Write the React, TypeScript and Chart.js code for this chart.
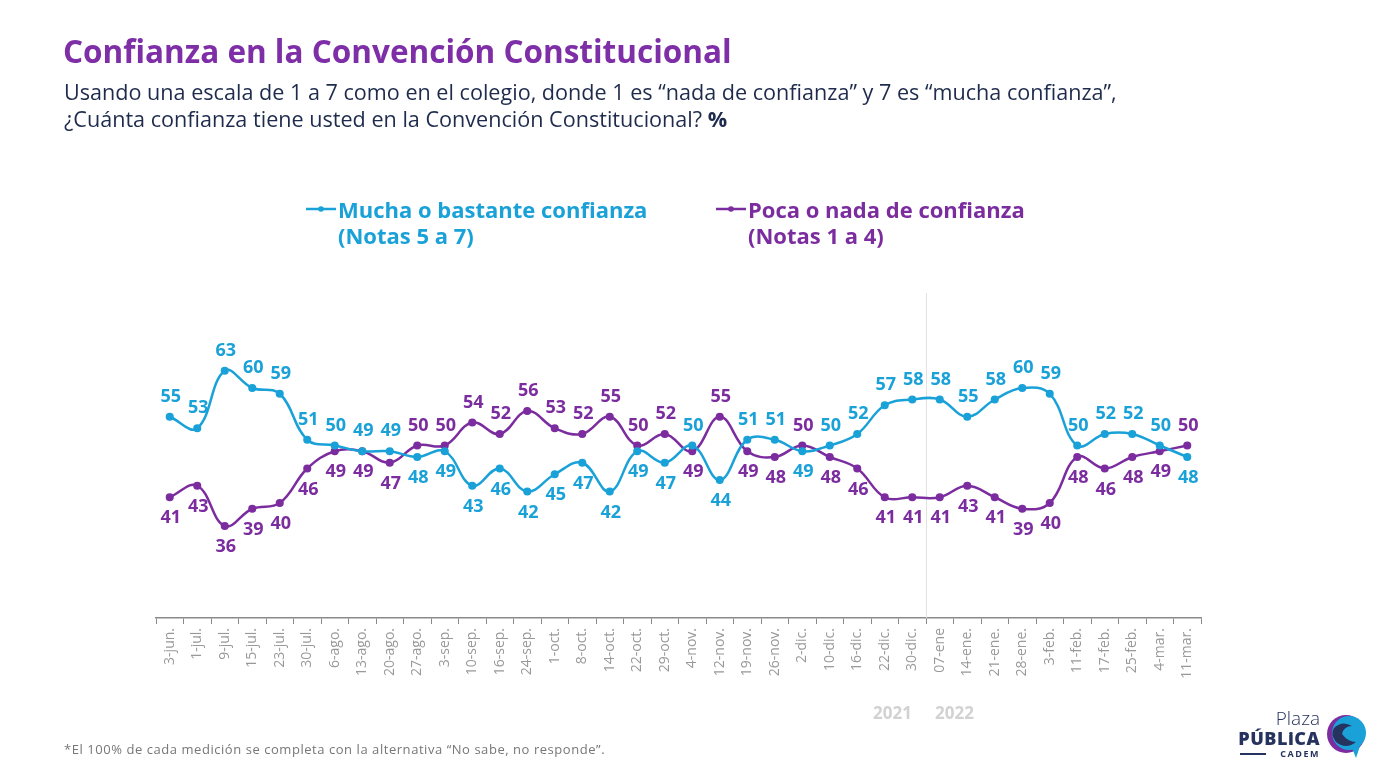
import React, { useEffect, useRef } from "react";
import { Chart, registerables } from "chart.js";

Chart.register(...registerables);

const categories = [
  "3-jun.", "1-jul.", "9-jul.", "15-jul.", "23-jul.", "30-jul.", "6-ago.", "13-ago.", "20-ago.", "27-ago.",
  "3-sep.", "10-sep.", "16-sep.", "24-sep.", "1-oct.", "8-oct.", "14-oct.", "22-oct.", "29-oct.", "4-nov.",
  "12-nov.", "19-nov.", "26-nov.", "2-dic.", "10-dic.", "16-dic.", "22-dic.", "30-dic.", "07-ene", "14-ene.",
  "21-ene.", "28-ene.", "3-feb.", "11-feb.", "17-feb.", "25-feb.", "4-mar.", "11-mar.",
];

const muchaConfianza = [
  55, 53, 63, 60, 59, 51, 50, 49, 49, 48,
  49, 43, 46, 42, 45, 47, 42, 49, 47, 50,
  44, 51, 51, 49, 50, 52, 57, 58, 58, 55,
  58, 60, 59, 50, 52, 52, 50, 48,
];

const pocaConfianza = [
  41, 43, 36, 39, 40, 46, 49, 49, 47, 50,
  50, 54, 52, 56, 53, 52, 55, 50, 52, 49,
  55, 49, 48, 50, 48, 46, 41, 41, 41, 43,
  41, 39, 40, 48, 46, 48, 49, 50,
];

const seriesNames = ["Mucha o bastante confianza", "Poca o nada de confianza"];
const seriesNotes = ["(Notas 5 a 7)", "(Notas 1 a 4)"];
const yearLabels = ["2021", "2022"];

const BLUE = "#19a1d8";
const PURPLE = "#7b2c9f";
const FONT = "'Open Sans', 'Noto Sans', sans-serif";

const labelsPlugin = {
  id: "valueLabels",
  beforeDatasetsDraw(chart: any) {
    const { ctx, chartArea, scales } = chart;
    const x = (scales.x.getPixelForValue(27) + scales.x.getPixelForValue(28)) / 2;
    ctx.save();
    ctx.strokeStyle = "#e2e2e2";
    ctx.lineWidth = 1;
    ctx.beginPath();
    ctx.moveTo(Math.round(x) + 0.5, chartArea.top - 3);
    ctx.lineTo(Math.round(x) + 0.5, chartArea.bottom);
    ctx.stroke();
    ctx.restore();
  },
  afterDatasetsDraw(chart: any) {
    const { ctx } = chart;
    const m0 = chart.getDatasetMeta(0);
    const m1 = chart.getDatasetMeta(1);
    ctx.save();
    ctx.font = `bold 18px ${FONT}`;
    ctx.textAlign = "center";
    ctx.textBaseline = "middle";
    for (let i = 0; i < categories.length; i++) {
      const b = muchaConfianza[i];
      const p = pocaConfianza[i];
      const blueAbove = b >= p;
      const pb = m0.data[i];
      const pp = m1.data[i];
      ctx.fillStyle = BLUE;
      ctx.fillText(String(b), pb.x + 1, blueAbove ? pb.y - 20 : pb.y + 21);
      ctx.fillStyle = PURPLE;
      ctx.fillText(String(p), pp.x + 1, blueAbove ? pp.y + 21 : pp.y - 20);
    }
    ctx.restore();
  },
};

function LegendItem({ left, color, name, note }: { left: number; color: string; name: string; note: string }) {
  return (
    <div style={{ position: "absolute", left, top: 196, color, fontFamily: FONT, fontWeight: 700, fontSize: 22, lineHeight: "26px" }}>
      <svg width={32} height={26} style={{ position: "absolute", left: -33, top: 0 }}>
        <line x1={1} y1={13} x2={31} y2={13} stroke={color} strokeWidth={2.5} />
        <circle cx={16} cy={13} r={2.8} fill={color} />
      </svg>
      <div style={{ whiteSpace: "nowrap" }}>{name}</div>
      <div style={{ whiteSpace: "nowrap" }}>{note}</div>
    </div>
  );
}

export default function App() {
  const canvasRef = useRef<HTMLCanvasElement | null>(null);

  useEffect(() => {
    if (!canvasRef.current) return;
    const chart = new Chart(canvasRef.current, {
      type: "line",
      data: {
        labels: categories,
        datasets: [
          {
            label: seriesNames[0],
            data: muchaConfianza,
            borderColor: BLUE,
            backgroundColor: BLUE,
            borderWidth: 2.5,
            pointRadius: 2.8,
            pointHoverRadius: 2.8,
            tension: 0.4,
            fill: false,
          },
          {
            label: seriesNames[1],
            data: pocaConfianza,
            borderColor: PURPLE,
            backgroundColor: PURPLE,
            borderWidth: 2.5,
            pointRadius: 2.8,
            pointHoverRadius: 2.8,
            tension: 0.4,
            fill: false,
          },
        ],
      },
      options: {
        responsive: false,
        animation: false,
        layout: { padding: { left: 156, right: 190, top: 296, bottom: 59 } },
        plugins: {
          legend: { display: false },
          tooltip: { enabled: false },
          title: { display: false },
        },
        scales: {
          x: {
            offset: true,
            grid: { offset: true, drawOnChartArea: false, drawTicks: true, tickLength: 6, color: "#8a8a8a", lineWidth: 1 },
            border: { display: true, color: "#8a8a8a", width: 1.5 },
            ticks: {
              autoSkip: false,
              minRotation: 90,
              maxRotation: 90,
              color: "#999999",
              font: { family: FONT, size: 14 },
              padding: 4,
            },
            afterFit: (s: any) => {
              s.height = 100;
            },
          },
          y: { display: false, min: 20, max: 76 },
        },
      },
      plugins: [labelsPlugin],
    });
    return () => chart.destroy();
  }, []);

  return (
    <div style={{ position: "absolute", left: 0, top: 0, width: 1391, height: 777, background: "#fff", overflow: "hidden" }}>
      <canvas ref={canvasRef} width={1391} height={777} style={{ position: "absolute", left: 0, top: 0 }} />
      <div style={{ position: "absolute", left: 63, top: 29, color: "#7e2ea6", fontFamily: FONT, fontWeight: 700, fontSize: 31.5, lineHeight: "44px", whiteSpace: "nowrap" }}>
        Confianza en la Convención Constitucional
      </div>
      <div style={{ position: "absolute", left: 64, top: 78, color: "#1e2b4d", fontFamily: FONT, fontSize: 21.6, lineHeight: "27px", whiteSpace: "nowrap" }}>
        <div>Usando una escala de 1 a 7 como en el colegio, donde 1 es “nada de confianza” y 7 es “mucha confianza”,</div>
        <div>
          ¿Cuánta confianza tiene usted en la Convención Constitucional? <b>%</b>
        </div>
      </div>
      <LegendItem left={338} color={BLUE} name={seriesNames[0]} note={seriesNotes[0]} />
      <LegendItem left={748} color={PURPLE} name={seriesNames[1]} note={seriesNotes[1]} />
      <div style={{ position: "absolute", left: 873, top: 701, color: "#d2d2d2", fontFamily: FONT, fontWeight: 700, fontSize: 17 }}>{yearLabels[0]}</div>
      <div style={{ position: "absolute", left: 935, top: 701, color: "#d2d2d2", fontFamily: FONT, fontWeight: 700, fontSize: 17 }}>{yearLabels[1]}</div>
      <div style={{ position: "absolute", left: 64, top: 740, color: "#777", fontFamily: FONT, fontSize: 13, letterSpacing: 0.55, whiteSpace: "nowrap" }}>
        *El 100% de cada medición se completa con la alternativa “No sabe, no responde”.
      </div>
      <div style={{ position: "absolute", left: 1236, top: 708, width: 84, textAlign: "right", color: "#27335f", fontFamily: FONT }}>
        <div style={{ fontSize: 19, fontWeight: 300, lineHeight: "20px" }}>Plaza</div>
        <div style={{ fontSize: 18, fontWeight: 800, lineHeight: "20px", letterSpacing: 0.5 }}>PÚBLiCA</div>
        <div style={{ position: "relative", fontSize: 9, fontWeight: 700, lineHeight: "11px", letterSpacing: 1.5 }}>
          <span style={{ position: "absolute", left: 4, top: 5, width: 26, height: 2, background: "#27335f" }} />
          CADEM
        </div>
      </div>
      <svg width={46} height={50} style={{ position: "absolute", left: 1322, top: 712 }}>
        <circle cx={24} cy={22} r={19} fill="#7b2c9f" />
        <circle cx={27} cy={21} r={17} fill="#19a1d8" />
        <path d="M12 16 Q20 8 30 14 Q22 14 20 22 Q26 30 34 30 Q24 38 14 30 Q8 22 12 16 Z" fill="#27335f" />
        <path d="M30 36 L34 46 L38 34 Z" fill="#19a1d8" />
      </svg>
    </div>
  );
}
